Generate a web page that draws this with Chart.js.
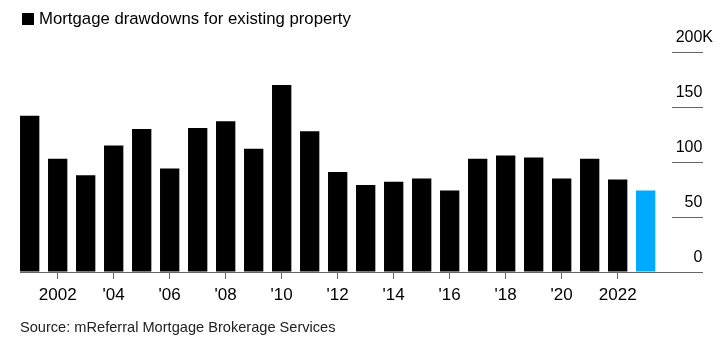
<!DOCTYPE html>
<html>
<head>
<meta charset="utf-8">
<script src="https://cdn.jsdelivr.net/npm/chart.js@4.4.1/dist/chart.umd.min.js"></script>
<style>
    body { margin: 0; background: #fff; font-family: "Liberation Sans", Arial, Helvetica, sans-serif; }
    #wrap { position: relative; width: 724px; height: 354px; overflow: hidden; }
    #chart { position: absolute; left: 0; top: 0; }
    .legend { position: absolute; left: 22px; top: 9px; font-size: 16.75px; color: #000; line-height: 20px; }
    .legend .box { display: inline-block; width: 12px; height: 12px; background: #000; margin-right: 5px; vertical-align: -1px; }
    .source { position: absolute; left: 20px; top: 318px; font-size: 14.6px; color: #222; line-height: 18px; }
</style>
</head>
<body>
<div id="wrap">
    <canvas id="chart" width="724" height="354"></canvas>
    <div class="legend"><span class="box"></span>Mortgage drawdowns for existing property</div>
    <div class="source">Source: mReferral Mortgage Brokerage Services</div>
</div>
<script>
// ===== DATA (thousands) =====
const years = [2001, 2002, 2003, 2004, 2005, 2006, 2007, 2008, 2009, 2010, 2011, 2012,
               2013, 2014, 2015, 2016, 2017, 2018, 2019, 2020, 2021, 2022, 2023];
const drawdowns = [142, 103, 88, 115, 130, 94, 131, 137, 112, 170, 128, 91,
                   79, 82, 85, 74, 103, 106, 104, 85, 103, 84, 74];
const highlightYear = 2023;

const xTickValues = [2002, 2004, 2006, 2008, 2010, 2012, 2014, 2016, 2018, 2020, 2022];
const xTickLabels = ["2002", "'04", "'06", "'08", "'10", "'12", "'14", "'16", "'18", "'20", "2022"];
const yTickValues = [0, 50, 100, 150, 200];
const yTickLabels = ["0", "50", "100", "150", "200K"];

const FONT = "'Liberation Sans', Arial, Helvetica, sans-serif";

// ===== CHART =====
function renderChart() {
    const ctx = document.getElementById("chart");

    const points = years.map((y, i) => ({ x: y, y: drawdowns[i] }));
    const colors = years.map(y => y === highlightYear ? "#00aaff" : "#000000");

    new Chart(ctx, {
        type: "bar",
        data: {
            datasets: [{
                label: "Mortgage drawdowns for existing property",
                data: points,
                backgroundColor: colors,
                borderWidth: 0,
                barPercentage: 0.69,
                categoryPercentage: 1
            }]
        },
        options: {
            responsive: false,
            animation: false,
            devicePixelRatio: 1,
            layout: {
                autoPadding: false,
                padding: { left: 20, right: 11, top: 52, bottom: 0 }
            },
            plugins: {
                legend: { display: false },
                tooltip: { enabled: false }
            },
            scales: {
                x: {
                    type: "linear",
                    offset: false,
                    min: 2000.654,
                    max: 2023.94,
                    afterFit: s => { s.height = 82; },
                    grid: { offset: false, drawOnChartArea: false, drawTicks: true, tickLength: 7, color: "#666" },
                    border: { display: true, color: "#666", width: 1 },
                    ticks: {
                        stepSize: 2,
                        includeBounds: false,
                        autoSkip: false,
                        maxRotation: 0,
                        padding: 6,
                        color: "#000",
                        font: { family: FONT, size: 17 },
                        callback: v => {
                            const i = xTickValues.indexOf(v);
                            return i >= 0 ? xTickLabels[i] : "";
                        }
                    }
                },
                y: {
                    position: "right",
                    min: 0,
                    max: 200,
                    afterFit: s => { s.width = 41; },
                    grid: { drawOnChartArea: false, drawTicks: true, tickLength: 31, color: "#666" },
                    border: { display: false },
                    ticks: {
                        stepSize: 50,
                        crossAlign: "far",
                        labelOffset: -14,
                        color: "#000",
                        font: { family: FONT, size: 16 },
                        callback: v => {
                            const i = yTickValues.indexOf(v);
                            if (i < 0) return "";
                            const t = yTickLabels[i];
                            // numbers line up, the K suffix hangs past them
                            return t.endsWith("K") ? t : t + "\u2002\u2006";
                        }
                    }
                }
            }
        }
    });
}

renderChart();
</script>
</body>
</html>
